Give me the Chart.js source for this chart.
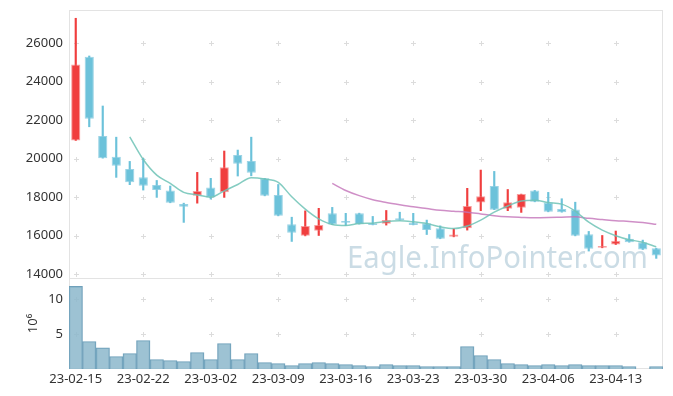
<!DOCTYPE html>
<html><head><meta charset="utf-8">
<script src="https://cdn.jsdelivr.net/npm/chart.js@4/dist/chart.umd.min.js"></script>
<style>html,body{margin:0;padding:0;background:#fff}#wrap{width:673px;height:396px;position:relative}</style>
</head><body><div id="wrap"><canvas id="c" width="673" height="396"></canvas></div>
<script>
const dates = ['23-02-15','23-02-16','23-02-17','23-02-20','23-02-21','23-02-22','23-02-23','23-02-24','23-02-27','23-02-28',
  '23-03-02','23-03-03','23-03-06','23-03-07','23-03-08','23-03-09','23-03-10','23-03-13','23-03-14','23-03-15',
  '23-03-16','23-03-17','23-03-20','23-03-21','23-03-22','23-03-23','23-03-24','23-03-27','23-03-28','23-03-29',
  '23-03-30','23-03-31','23-04-03','23-04-04','23-04-05','23-04-06','23-04-07','23-04-10','23-04-11','23-04-12',
  '23-04-13','23-04-14','23-04-17','23-04-18'];
const opens  = [20950,25300,21180,20100,19460,19040,18630,18350,17640,18070,18510,18260,20190,19880,18980,18110,16600,15990,16250,17160,
  16760,17170,16650,16620,16910,16670,16650,16380,15940,16390,17730,18580,17400,17450,18350,17730,17380,17360,16080,15370,15540,15840,15660,15350];
const highs  = [27300,25340,22740,21120,19860,20020,18870,18580,17690,19290,18980,20400,20450,21120,18980,18660,16960,17290,17420,17470,
  17160,17170,17000,17310,17220,17160,16810,16510,16360,18460,19410,19340,18400,18160,18350,18250,17920,17740,16220,16010,16240,16060,15770,15350];
const lows   = [20950,21660,20030,19030,18650,18370,17990,17710,16690,17690,17900,17990,19100,19110,18070,17030,15700,15990,16010,16580,
  16530,16600,16560,16550,16810,16560,16060,15840,15940,16290,17300,17350,17300,17210,17760,17240,17220,15990,15200,15370,15540,15660,15280,14820];
const closes = [24900,22080,20030,19630,18780,18590,18380,17710,17500,18320,17990,19560,19740,19270,18070,17030,16150,16500,16550,16580,
  16670,16600,16560,16810,16810,16560,16290,15840,16060,17540,18050,17350,17740,18160,17760,17240,17220,15990,15320,15460,15730,15660,15280,14970];
const volumes = [11.8,3.93,3.03,1.79,2.21,4.07,1.36,1.21,1.07,2.36,1.36,3.64,1.36,2.21,0.93,0.79,0.5,0.79,0.93,0.79,
  0.64,0.5,0.36,0.64,0.5,0.5,0.36,0.36,0.36,3.21,1.93,1.36,0.79,0.64,0.5,0.64,0.5,0.64,0.5,0.5,0.5,0.36,0,0.36];
const ma5 = [null,null,null,null,21140,19960,19150,18720,18250,18120,18000,18330,18660,19010,18940,18770,18020,17380,16870,16580,
  16530,16630,16650,16740,16770,16720,16630,16460,16370,16500,16810,17220,17540,17800,17840,17720,17640,17280,16700,16290,16000,15790,15660,15420];
const ma20 = [null,null,null,null,null,null,null,null,null,null,null,null,null,null,null,null,null,null,null,18720,
  18350,18080,17870,17730,17610,17500,17410,17320,17270,17220,17130,17040,16980,16950,16930,16940,16960,16980,16900,16840,16780,16740,16690,16590];
const priceTicks = [14000,16000,18000,20000,22000,24000,26000];
const volumeTicks = [5,10];
const watermark = 'Eagle.InfoPointer.com';

const UP = 'rgb(240,62,62)', DOWN = 'rgb(108,194,218)';
const candleColors = opens.map((o,i)=> closes[i] >= o ? UP : DOWN);
const candleBorders = opens.map((o,i)=> closes[i] >= o ? 'rgba(245,120,120,0.7)' : 'rgba(130,200,222,0.8)');
const FONT = {family:'"Noto Sans", "Open Sans", sans-serif', size:13};

const decor = {
  id:'decor',
  beforeDatasetsDraw(chart){
    const ctx = chart.ctx, xs = chart.scales.x, yp = chart.scales.y, yv = chart.scales.yv;
    const {left, right} = chart.chartArea;
    ctx.save();
    ctx.font = '31px "Noto Sans", sans-serif';
    ctx.fillStyle = 'rgba(185,208,220,0.75)';
    ctx.textBaseline = 'alphabetic';
    const w = ctx.measureText(watermark).width;
    const tw = 301;
    ctx.translate(right - 15 - tw, yp.bottom - 10);
    ctx.scale(tw / w, 1);
    ctx.fillText(watermark, 0, 0);
    ctx.restore();
    ctx.save();
    ctx.strokeStyle = '#dcdcdc';
    ctx.lineWidth = 1;
    const xsPos = [];
    dates.forEach((d,i)=>{ if(i%5===0) xsPos.push(Math.round(xs.getPixelForValue(i))+0.5); });
    const ysPos = [];
    priceTicks.forEach(v=> ysPos.push(Math.round(yp.getPixelForValue(v))+0.5));
    volumeTicks.forEach(v=> ysPos.push(Math.round(yv.getPixelForValue(v))+0.5));
    ctx.beginPath();
    xsPos.forEach(x=> ysPos.forEach(y=>{
      ctx.moveTo(x-2.5,y); ctx.lineTo(x+2.5,y);
      ctx.moveTo(x,y-2.5); ctx.lineTo(x,y+2.5);
    }));
    ctx.stroke();
    ctx.strokeStyle = '#e3e3e3';
    ctx.strokeRect(Math.round(left)+0.5, Math.round(yp.top)+0.5, Math.round(right-left)-1, Math.round(yp.bottom-yp.top));
    ctx.strokeRect(Math.round(left)+0.5, Math.round(yv.top)+0.5, Math.round(right-left)-1, Math.round(yv.bottom-yv.top)-1);
    ctx.restore();
  }
};

new Chart(document.getElementById('c'), {
  type:'bar',
  data:{
    labels: dates,
    datasets:[
      {type:'line', label:'MA5', data: ma5, yAxisID:'y', borderColor:'rgba(110,195,182,0.85)', borderWidth:1.5,
       pointRadius:0, tension:0.4, cubicInterpolationMode:'monotone', order:0},
      {type:'line', label:'MA20', data: ma20, yAxisID:'y', borderColor:'rgba(195,115,185,0.8)', borderWidth:1.5,
       pointRadius:0, tension:0.4, cubicInterpolationMode:'monotone', order:0},
      {type:'bar', label:'body', data: opens.map((o,i)=>[o, closes[i]]), yAxisID:'y', grouped:false,
       backgroundColor: candleColors, borderColor: candleBorders, borderWidth:1, borderSkipped:false,
       barPercentage:0.68, categoryPercentage:1, order:1},
      {type:'bar', label:'wick', data: lows.map((l,i)=>[l, highs[i]]), yAxisID:'y', grouped:false,
       backgroundColor: candleColors, borderWidth:0, barThickness:1.5, order:2},
      {type:'bar', label:'volume', data: volumes, yAxisID:'yv', grouped:false,
       backgroundColor:'rgba(140,183,203,0.85)', borderColor:'rgba(95,150,178,0.9)', borderWidth:1, borderSkipped:'bottom',
       barPercentage:1, categoryPercentage:1, order:3}
    ]
  },
  options:{
    responsive:false, animation:false, devicePixelRatio:1,
    layout:{padding:{top:10, right:10, left:0, bottom:0}},
    plugins:{legend:{display:false}, tooltip:{enabled:false}},
    scales:{
      x:{type:'category', offset:true, grid:{display:false, drawTicks:false}, border:{display:false},
         ticks:{autoSkip:false, maxRotation:0, padding:2, color:'#333', font:FONT,
                callback:(v,i)=> i%5===0 ? dates[i] : ''},
         afterFit(s){ s.height = 27; s.paddingLeft = 0; s.paddingRight = 0; }},
      yv:{type:'linear', position:'left', stack:'s', stackWeight:91, min:0, max:13,
         grid:{display:false, drawTicks:false}, border:{display:false},
         title:{display:true, text:'10⁶', color:'#333', font:FONT, padding:{top:25, bottom:0}},
         afterBuildTicks(s){ s.ticks = volumeTicks.map(v=>({value:v})); },
         ticks:{padding:6, color:'#333', font:FONT, callback:(v)=> String(v)},
         afterFit(s){ s.width = 69; s.paddingTop = 0; s.paddingBottom = 0; }},
      y:{type:'linear', position:'left', stack:'s', stackWeight:268, min:13800, max:27730,
         grid:{display:false, drawTicks:false}, border:{display:false},
         afterBuildTicks(s){ s.ticks = priceTicks.map(v=>({value:v})); },
         ticks:{padding:6, color:'#333', font:FONT, callback:(v)=> String(v)},
         afterFit(s){ s.width = 69; s.paddingTop = 0; s.paddingBottom = 0; }}
    }
  },
  plugins:[decor]
});
</script>
</body></html>
